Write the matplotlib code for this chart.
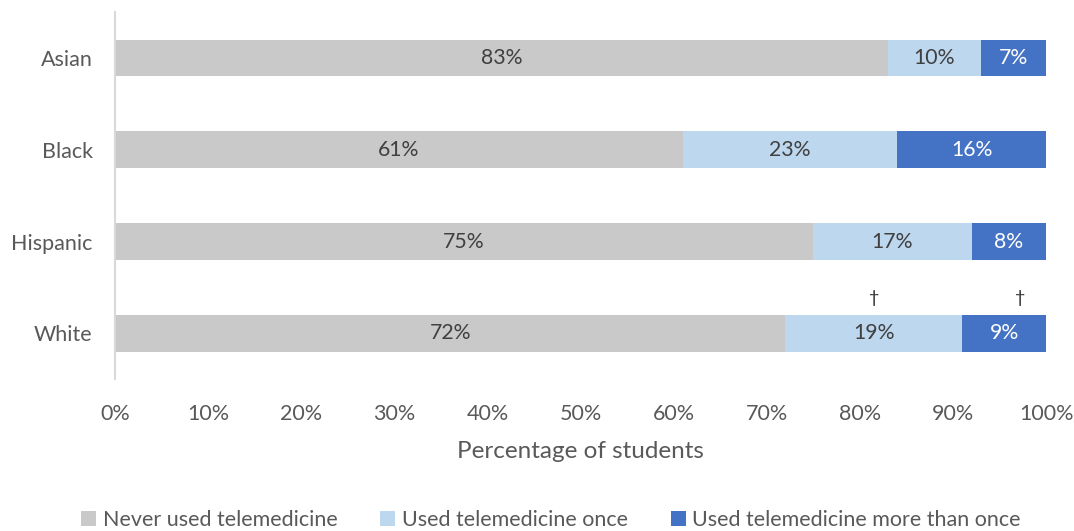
import numpy as np
from matplotlib import pyplot as plt
from matplotlib.patches import Patch

groups = ['Asian', 'Black', 'Hispanic', 'White']
never = [83, 61, 75, 72]
once = [10, 23, 17, 19]
more = [7, 16, 8, 9]
series_names = ['Never used telemedicine', 'Used telemedicine once',
                'Used telemedicine more than once']
colors = ['#C9C9C9', '#BDD7EE', '#4472C4']
text_colors = ['#404040', '#404040', '#FFFFFF']
# reporting flags: (group, series index, symbol)
flags = [('White', 1, '\u2020'), ('White', 2, '\u2020')]

plt.rcParams['font.family'] = ['Lato', 'DejaVu Sans']

fig = plt.figure(figsize=(10.74, 5.31), dpi=100)
ax = fig.add_axes([0.107, 0.286, 0.867, 0.691])

y = np.arange(len(groups))[::-1]
left = np.zeros(len(groups))
lefts = []
for vals, col, tcol in zip([never, once, more], colors, text_colors):
    vals = np.array(vals, dtype=float)
    ax.barh(y, vals, left=left, height=0.4, color=col, edgecolor='none')
    for yi, l, v in zip(y, left, vals):
        ax.text(l + v / 2, yi, '%d%%' % v, ha='center', va='center',
                fontsize=15.3, color=tcol)
    lefts.append(left.copy())
    left = left + vals

for g, s, sym in flags:
    i = groups.index(g)
    vals = [never, once, more][s]
    x = lefts[s][i] + vals[i] / 2
    if s == 2:
        x += 1.7
    ax.text(x, y[i] + 0.3, sym, ha='center', va='bottom', fontsize=13,
            color='#303030')

ax.set_xlim(0, 100)
ax.set_ylim(-0.5, 3.5)
ax.set_yticks(y)
ax.set_yticklabels(groups)
ax.set_xticks(np.arange(0, 101, 10))
ax.set_xticklabels(['%d%%' % t for t in range(0, 101, 10)])
ax.tick_params(length=0, labelsize=15.5, colors='#595959', pad=16)
ax.tick_params(axis='x', pad=18)
for side in ['top', 'right', 'bottom']:
    ax.spines[side].set_visible(False)
ax.spines['left'].set_color('#D9D9D9')
ax.spines['left'].set_linewidth(1.5)
ax.set_xlabel('Percentage of students', fontsize=17.5, color='#595959', labelpad=12)

handles = [Patch(facecolor=c, edgecolor='none') for c in colors]
fig.legend(handles, series_names, loc='lower center', ncol=3, frameon=False,
           fontsize=15.5, labelcolor='#595959', handlelength=0.7, handleheight=0.7,
           handletextpad=0.3, columnspacing=2.0, bbox_to_anchor=(0.513, -0.035))

plt.savefig('out.png')
